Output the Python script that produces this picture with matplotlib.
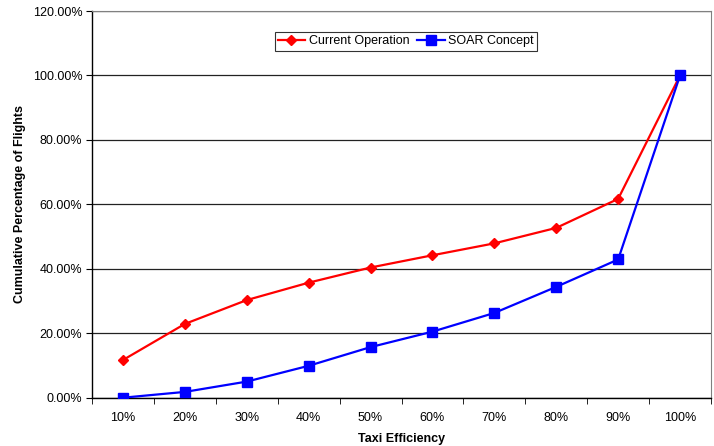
import numpy as np
import matplotlib.pyplot as plt

plt.rcParams['font.family'] = ['Liberation Sans', 'DejaVu Sans']

# Cumulative share of flights at each taxi efficiency level (%)
efficiency = ['10%', '20%', '30%', '40%', '50%', '60%', '70%', '80%', '90%', '100%']
current_op = [11.7, 22.9, 30.3, 35.7, 40.4, 44.2, 47.9, 52.7, 61.7, 100.0]
soar = [0.0, 1.8, 5.0, 9.9, 15.7, 20.5, 26.3, 34.4, 42.9, 100.0]

fig = plt.figure(figsize=(7.14, 4.46), dpi=100)
ax = fig.add_axes([0.1289, 0.1083, 0.8669, 0.867])

x = np.arange(1, len(efficiency) + 1)
ax.plot(x, current_op, color='#ff0000', lw=1.6, marker='D', ms=5,
        label='Current Operation', zorder=3)
ax.plot(x, soar, color='#0000ff', lw=1.6, marker='s', ms=6.5,
        label='SOAR Concept', zorder=3)

ax.set_xlim(0.5, len(efficiency) + 0.5)
ax.set_ylim(0, 120)
ax.set_yticks(np.arange(0, 121, 20))
ax.set_yticklabels([f'{v:.2f}%' for v in np.arange(0, 121, 20)], fontsize=9)
ax.set_xticks(x)
ax.set_xticklabels(efficiency, fontsize=9)
ax.set_xticks(np.arange(0.5, len(efficiency) + 1), minor=True)
ax.tick_params(axis='x', which='major', length=0, pad=10)
ax.tick_params(axis='x', which='minor', length=4, direction='out', color='black')
ax.tick_params(axis='y', length=4, direction='out', color='black', pad=3)

ax.grid(axis='y', color='#222222', lw=0.9)
ax.set_axisbelow(True)
for side in ['top', 'right']:
    ax.spines[side].set_color('#808080')
for side in ['left', 'bottom']:
    ax.spines[side].set_color('black')
    ax.spines[side].set_linewidth(1.0)

ax.set_xlabel('Taxi Efficiency', fontsize=9, fontweight='bold', labelpad=7)
ax.set_ylabel('Cumulative Percentage of Flights', fontsize=9, fontweight='bold', labelpad=5)

leg = ax.legend(loc='upper center', bbox_to_anchor=(0.507, 0.945), ncol=2,
                fontsize=9, frameon=True, fancybox=False, edgecolor='black',
                handlelength=2.2, handletextpad=0.3, columnspacing=0.6,
                borderpad=0.25, borderaxespad=0)
leg.get_frame().set_linewidth(0.8)

fig.savefig('out.png', dpi=100)
